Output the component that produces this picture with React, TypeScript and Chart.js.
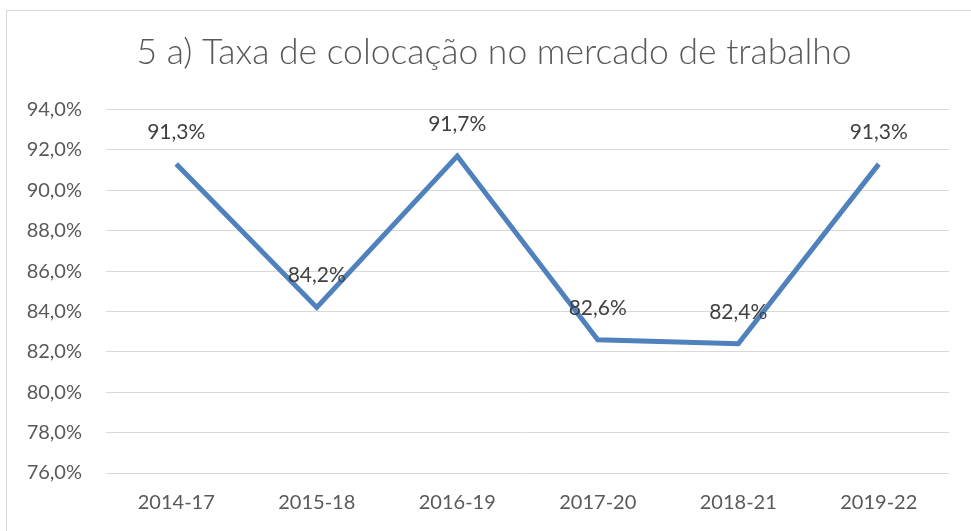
import React, { useEffect, useRef } from "react";
import { Chart, registerables } from "chart.js";

Chart.register(...registerables);

const categories = ["2014-17", "2015-18", "2016-19", "2017-20", "2018-21", "2019-22"];
const values = [91.3, 84.2, 91.7, 82.6, 82.4, 91.3];
const titleText = "5 a) Taxa de colocação no mercado de trabalho";
const yMin = 76;
const yMax = 94;
const yStep = 2;

const fmt = (v: number) => v.toFixed(1).replace(".", ",") + "%";

const dataLabels = {
  id: "dataLabels",
  afterDatasetsDraw(chart: any) {
    const ctx = chart.ctx;
    const meta = chart.getDatasetMeta(0);
    ctx.save();
    ctx.font = "21px Lato, 'Open Sans', sans-serif";
    ctx.fillStyle = "#404040";
    ctx.textAlign = "center";
    ctx.textBaseline = "middle";
    meta.data.forEach((pt: any, i: number) => {
      ctx.fillText(fmt(values[i]), pt.x, pt.y - 32);
    });
    ctx.restore();
  },
};

export default function App() {
  const ref = useRef<HTMLCanvasElement | null>(null);
  useEffect(() => {
    document.body.style.margin = "0";
    document.body.style.overflow = "hidden";
    if (!ref.current) return;
    const chart = new Chart(ref.current, {
      type: "line",
      data: {
        labels: categories,
        datasets: [
          {
            data: values,
            borderColor: "#4F81BD",
            borderWidth: 5,
            pointRadius: 0,
            tension: 0,
            borderJoinStyle: "miter",
            fill: false,
            yAxisID: "y",
          },
        ],
      },
      options: {
        animation: false,
        responsive: false,
        maintainAspectRatio: false,
        layout: { padding: { left: 0, right: 0, top: 0, bottom: 0 } },
        plugins: {
          legend: { display: false },
          tooltip: { enabled: false },
          title: {
            display: true,
            text: titleText,
            color: "#595959",
            font: { family: "Lato, 'Open Sans', sans-serif", size: 35.5, weight: "300" as any, lineHeight: 1.2 },
            padding: { top: 31, bottom: 36 },
          },
        },
        scales: {
          x: {
            offset: true,
            grid: { display: false, drawTicks: false },
            border: { display: false },
            ticks: {
              color: "#595959",
              font: { family: "Lato, 'Open Sans', sans-serif", size: 20 },
              padding: 18,
              maxRotation: 0,
            },
            afterFit(scale: any) {
              scale.height = 58;
            },
          },
          y: {
            min: yMin,
            max: yMax,
            grid: { color: "#d9d9d9", lineWidth: 1, drawTicks: false },
            border: { display: false },
            ticks: {
              stepSize: yStep,
              color: "#595959",
              font: { family: "Lato, 'Open Sans', sans-serif", size: 20 },
              padding: 24,
              callback: (v: any) => fmt(Number(v)),
            },
            afterFit(scale: any) {
              scale.width = 106;
            },
          },
          yRight: {
            type: "linear",
            position: "right",
            display: true,
            grid: { display: false, drawTicks: false },
            border: { display: false },
            ticks: { display: false },
            afterFit(scale: any) {
              scale.width = 39;
            },
          },
        },
      },
      plugins: [dataLabels],
    });
    return () => chart.destroy();
  }, []);
  return (
    <div style={{ position: "relative", width: 971, height: 531, overflow: "hidden", background: "#fff" }}>
      <div
        style={{
          position: "absolute",
          left: 6,
          top: 10,
          width: 1000,
          height: 600,
          border: "1px solid #d9d9d9",
          boxSizing: "border-box",
        }}
      />
      <canvas ref={ref} width={988} height={531} style={{ position: "absolute", left: 0, top: 0 }} />
    </div>
  );
}
